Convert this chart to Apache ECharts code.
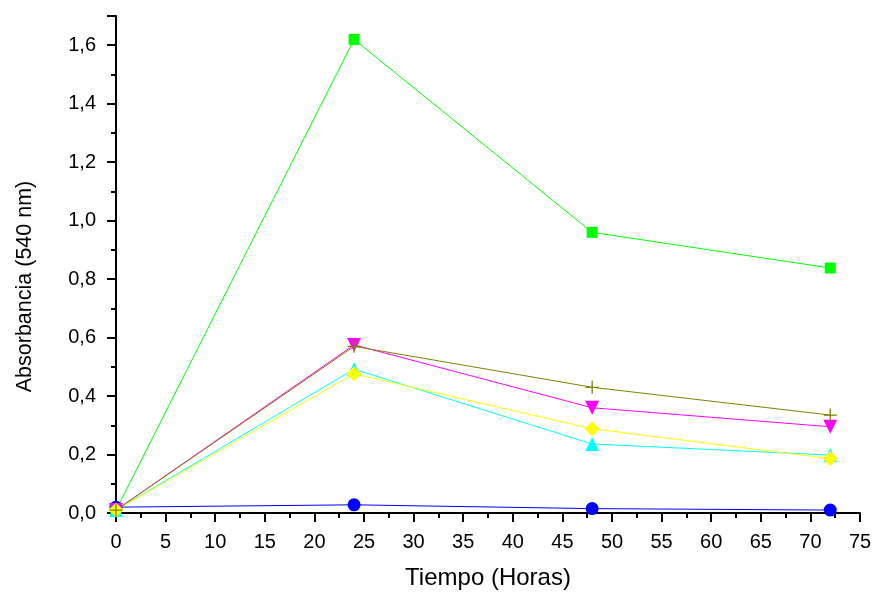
<!DOCTYPE html>
<html><head><meta charset="utf-8">
<script src="https://cdn.jsdelivr.net/npm/echarts@6/dist/echarts.min.js"></script>
<style>html,body{margin:0;padding:0;background:#fff}#c{width:878px;height:595px}</style>
</head><body><div id="c"></div>
<script>
const hours = [0, 24, 48, 72];
const serBlue = [0.02, 0.028, 0.015, 0.01];
const serGreen = [0.01, 1.62, 0.96, 0.838];
const serCyan = [0.01, 0.492, 0.236, 0.198];
const serMagenta = [0.01, 0.575, 0.36, 0.295];
const serYellow = [0.01, 0.476, 0.288, 0.186];
const serOlive = [0.01, 0.57, 0.43, 0.335];
const xTicks = [0,5,10,15,20,25,30,35,40,45,50,55,60,65,70,75];

const pts = arr => hours.map((h,i)=>[h, arr[i]]);
const font = 'Liberation Sans, Arial, sans-serif';
function mk(name, arr, color, symbol, size, rotate){
  return {
    name, type:'line', data: pts(arr), symbol, symbolSize:size, symbolRotate: rotate||0,
    lineStyle:{color, width:1}, itemStyle:{color},
    emphasis:{disabled:true}, animation:false
  };
}
const plus = 'path://M9,0h2v9h9v2h-9v9h-2v-9h-9v-2h9z';
const chart = echarts.init(document.getElementById('c'), null, {renderer:'canvas'});
chart.setOption({
  animation:false,
  grid:{left:116, right:18, top:16, bottom:80, containLabel:false},
  xAxis:{
    type:'value', min:0, max:75, interval:5,
    name:'Tiempo (Horas)', nameLocation:'middle', nameGap:53,
    nameTextStyle:{fontFamily:font, fontSize:24, color:'#000'},
    axisLine:{show:true, onZero:false, lineStyle:{color:'#000', width:2}},
    axisTick:{show:true, inside:false, length:9, lineStyle:{color:'#000', width:2}},
    minorTick:{show:true, splitNumber:2, length:5, lineStyle:{color:'#000', width:2}},
    splitLine:{show:false},
    axisLabel:{fontFamily:font, fontSize:20, color:'#000', margin:19,
      customValues: xTicks}
  },
  yAxis:{
    type:'value', min:0, max:1.7, interval:0.2,
    name:'Absorbancia (540 nm)', nameLocation:'middle', nameGap:80, nameRotate:90,
    nameTextStyle:{fontFamily:font, fontSize:21.5, color:'#000', padding:[0,44,0,0]},
    axisLine:{show:true, onZero:false, lineStyle:{color:'#000', width:2}},
    axisTick:{show:true, inside:false, length:9, lineStyle:{color:'#000', width:2}},
    minorTick:{show:true, splitNumber:2, length:5, lineStyle:{color:'#000', width:2}},
    splitLine:{show:false},
    axisLabel:{fontFamily:font, fontSize:20, color:'#000', margin:20, showMaxLabel:false,
      formatter: v => (Math.abs(v-1.7)<1e-6 ? '' : v.toFixed(1).replace('.', ','))}
  },
  series:[
    mk('Blue', serBlue, '#0000ff', 'circle', 13),
    mk('Green', serGreen, '#00ff00', 'rect', 11),
    mk('Cyan', serCyan, '#00ffff', 'triangle', 14),
    mk('Magenta', serMagenta, '#ff00ff', 'triangle', 14, 180),
    mk('Yellow', serYellow, '#ffff00', 'diamond', 15),
    mk('Olive', serOlive, '#808000', plus, 13)
  ]
});
</script></body></html>
